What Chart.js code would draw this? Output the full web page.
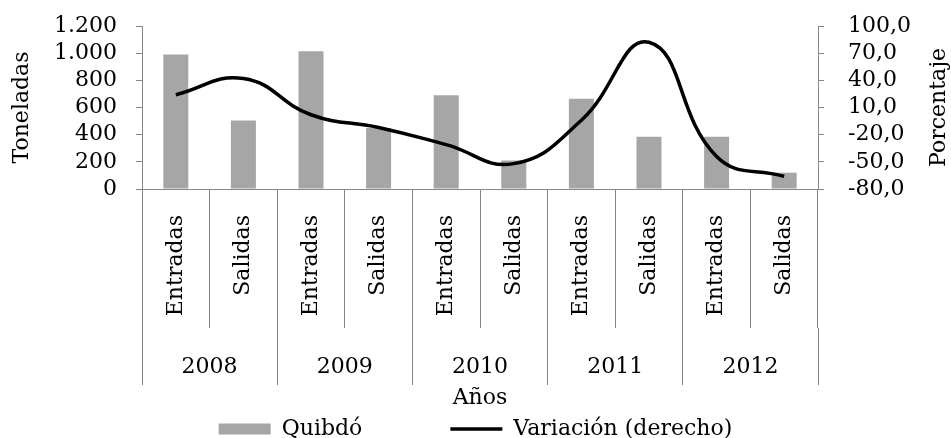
<!DOCTYPE html>
<html>
<head>
<meta charset="utf-8">
<script src="https://cdn.jsdelivr.net/npm/chart.js@4/dist/chart.umd.min.js"></script>
<style>
    html, body { margin: 0; padding: 0; background: #fff; }
    #wrap { width: 951px; height: 438px; }
</style>
</head>
<body>
<div id="wrap"><canvas id="quibdoChart"></canvas></div>
<script>
/******** data *********** */
const categories = ["Entradas", "Salidas", "Entradas", "Salidas", "Entradas",
    "Salidas", "Entradas", "Salidas", "Entradas", "Salidas"];
const years = ["2008", "2009", "2010", "2011", "2012"];
const toneladas = [990, 505, 1015, 450, 690, 210, 665, 385, 385, 120];
const variacion = [24, 42, 2, -12, -31, -52, -4, 82, -44, -66];
const tonTicks = [0, 200, 400, 600, 800, 1000, 1200];
const pctTicks = [-80, -50, -20, 10, 40, 70, 100];

const axisGray = "#868686";
const barGray = "#a6a6a6";

Chart.defaults.font.family = "'DejaVu Serif', serif";
Chart.defaults.font.size = 22;
Chart.defaults.color = "#000";

// thousands with a dot: 1.200
const fmtTon = (v) => String(v).replace(/(\d)(\d{3})$/, "$1.$2");
// one decimal with a comma: 70,0
const fmtPct = (v) => Number(v).toFixed(1).replace(".", ",");

// right title reads bottom to top like the left one
const rightTitle = {
    id: "rightTitle",
    afterDraw(chart) {
        const s = chart.scales.y1;
        const ctx = chart.ctx;
        ctx.save();
        ctx.font = "22px 'DejaVu Serif', serif";
        ctx.fillStyle = "#000";
        ctx.textAlign = "center";
        ctx.textBaseline = "middle";
        ctx.translate(s.right - 12, (s.top + s.bottom) / 2);
        ctx.rotate(-Math.PI / 2);
        ctx.fillText("Porcentaje", 0, 0);
        ctx.restore();
    },
};

const ctx = document.getElementById("quibdoChart").getContext("2d");
const chart = new Chart(ctx, {
    type: "bar",
    data: {
        labels: categories,
        datasets: [
            {
                label: "Quibdó",
                data: toneladas,
                backgroundColor: barGray,
                borderWidth: 0,
                categoryPercentage: 1,
                barPercentage: 0.37,
                yAxisID: "y",
                order: 1,
            },
            {
                type: "line",
                label: "Variación (derecho)",
                data: variacion,
                borderColor: "#000",
                backgroundColor: "#000",
                borderWidth: 3.5,
                pointRadius: 0,
                pointHoverRadius: 0,
                tension: 0.45,
                yAxisID: "y1",
                order: 0,
            },
        ],
    },
    options: {
        responsive: true,
        maintainAspectRatio: false,
        animation: false,
        layout: {
            padding: { top: 26, left: 0, right: 0, bottom: -12 },
        },
        plugins: {
            tooltip: { enabled: false },
            legend: {
                position: "bottom",
                labels: {
                    usePointStyle: true,
                    pointStyleWidth: 52,
                    boxHeight: 11,
                    padding: 88,
                    generateLabels(chart) {
                        const items = Chart.defaults.plugins.legend.labels.generateLabels(chart);
                        items.sort((a, b) => a.datasetIndex - b.datasetIndex);
                        items[0].pointStyle = "rect";
                        items[0].lineWidth = 0;
                        items[1].pointStyle = "line";
                        items[1].lineWidth = 3.5;
                        return items;
                    },
                },
            },
        },
        scales: {
            x: {
                type: "category",
                offset: true,
                grid: {
                    offset: true,
                    drawOnChartArea: false,
                    tickLength: 139,
                    color: axisGray,
                },
                border: { color: axisGray },
                ticks: {
                    autoSkip: false,
                    minRotation: 90,
                    maxRotation: 90,
                    padding: -113,
                },
                afterFit(scale) {
                    scale.height = 139;
                },
            },
            x2: {
                type: "category",
                labels: years,
                position: "bottom",
                weight: 1,
                offset: true,
                grid: {
                    offset: true,
                    drawOnChartArea: false,
                    tickLength: 57,
                    color: axisGray,
                },
                border: { display: false },
                // mirrored so the year labels are not clipped to this thin box
                ticks: { autoSkip: false, maxRotation: 0, mirror: true, padding: -52 },
                title: {
                    display: true,
                    text: "Años",
                    padding: { top: 0, bottom: -81 },
                },
                afterFit(scale) {
                    scale.height = 2;
                },
            },
            y: {
                position: "left",
                min: 0,
                max: 1200,
                afterBuildTicks(scale) {
                    scale.ticks = tonTicks.map((v) => ({ value: v }));
                },
                grid: { drawOnChartArea: false, tickLength: 6, color: axisGray },
                border: { color: axisGray },
                ticks: { autoSkip: false, padding: 19, callback: (v) => fmtTon(v) },
                title: {
                    display: true,
                    text: "Toneladas",
                    padding: { top: 9, bottom: 0 },
                },
                afterFit(scale) {
                    scale.width = 142;
                    scale.paddingTop = 0;
                    scale.paddingBottom = 0;
                },
            },
            y1: {
                position: "right",
                min: -80,
                max: 100,
                afterBuildTicks(scale) {
                    scale.ticks = pctTicks.map((v) => ({ value: v }));
                },
                grid: { drawOnChartArea: false, tickLength: 6, color: axisGray },
                border: { color: axisGray },
                ticks: { autoSkip: false, padding: 24, callback: (v) => fmtPct(v) },
                afterFit(scale) {
                    scale.width = 133;
                    scale.paddingTop = 0;
                    scale.paddingBottom = 0;
                },
            },
        },
    },
    plugins: [rightTitle],
});
</script>
</body>
</html>
